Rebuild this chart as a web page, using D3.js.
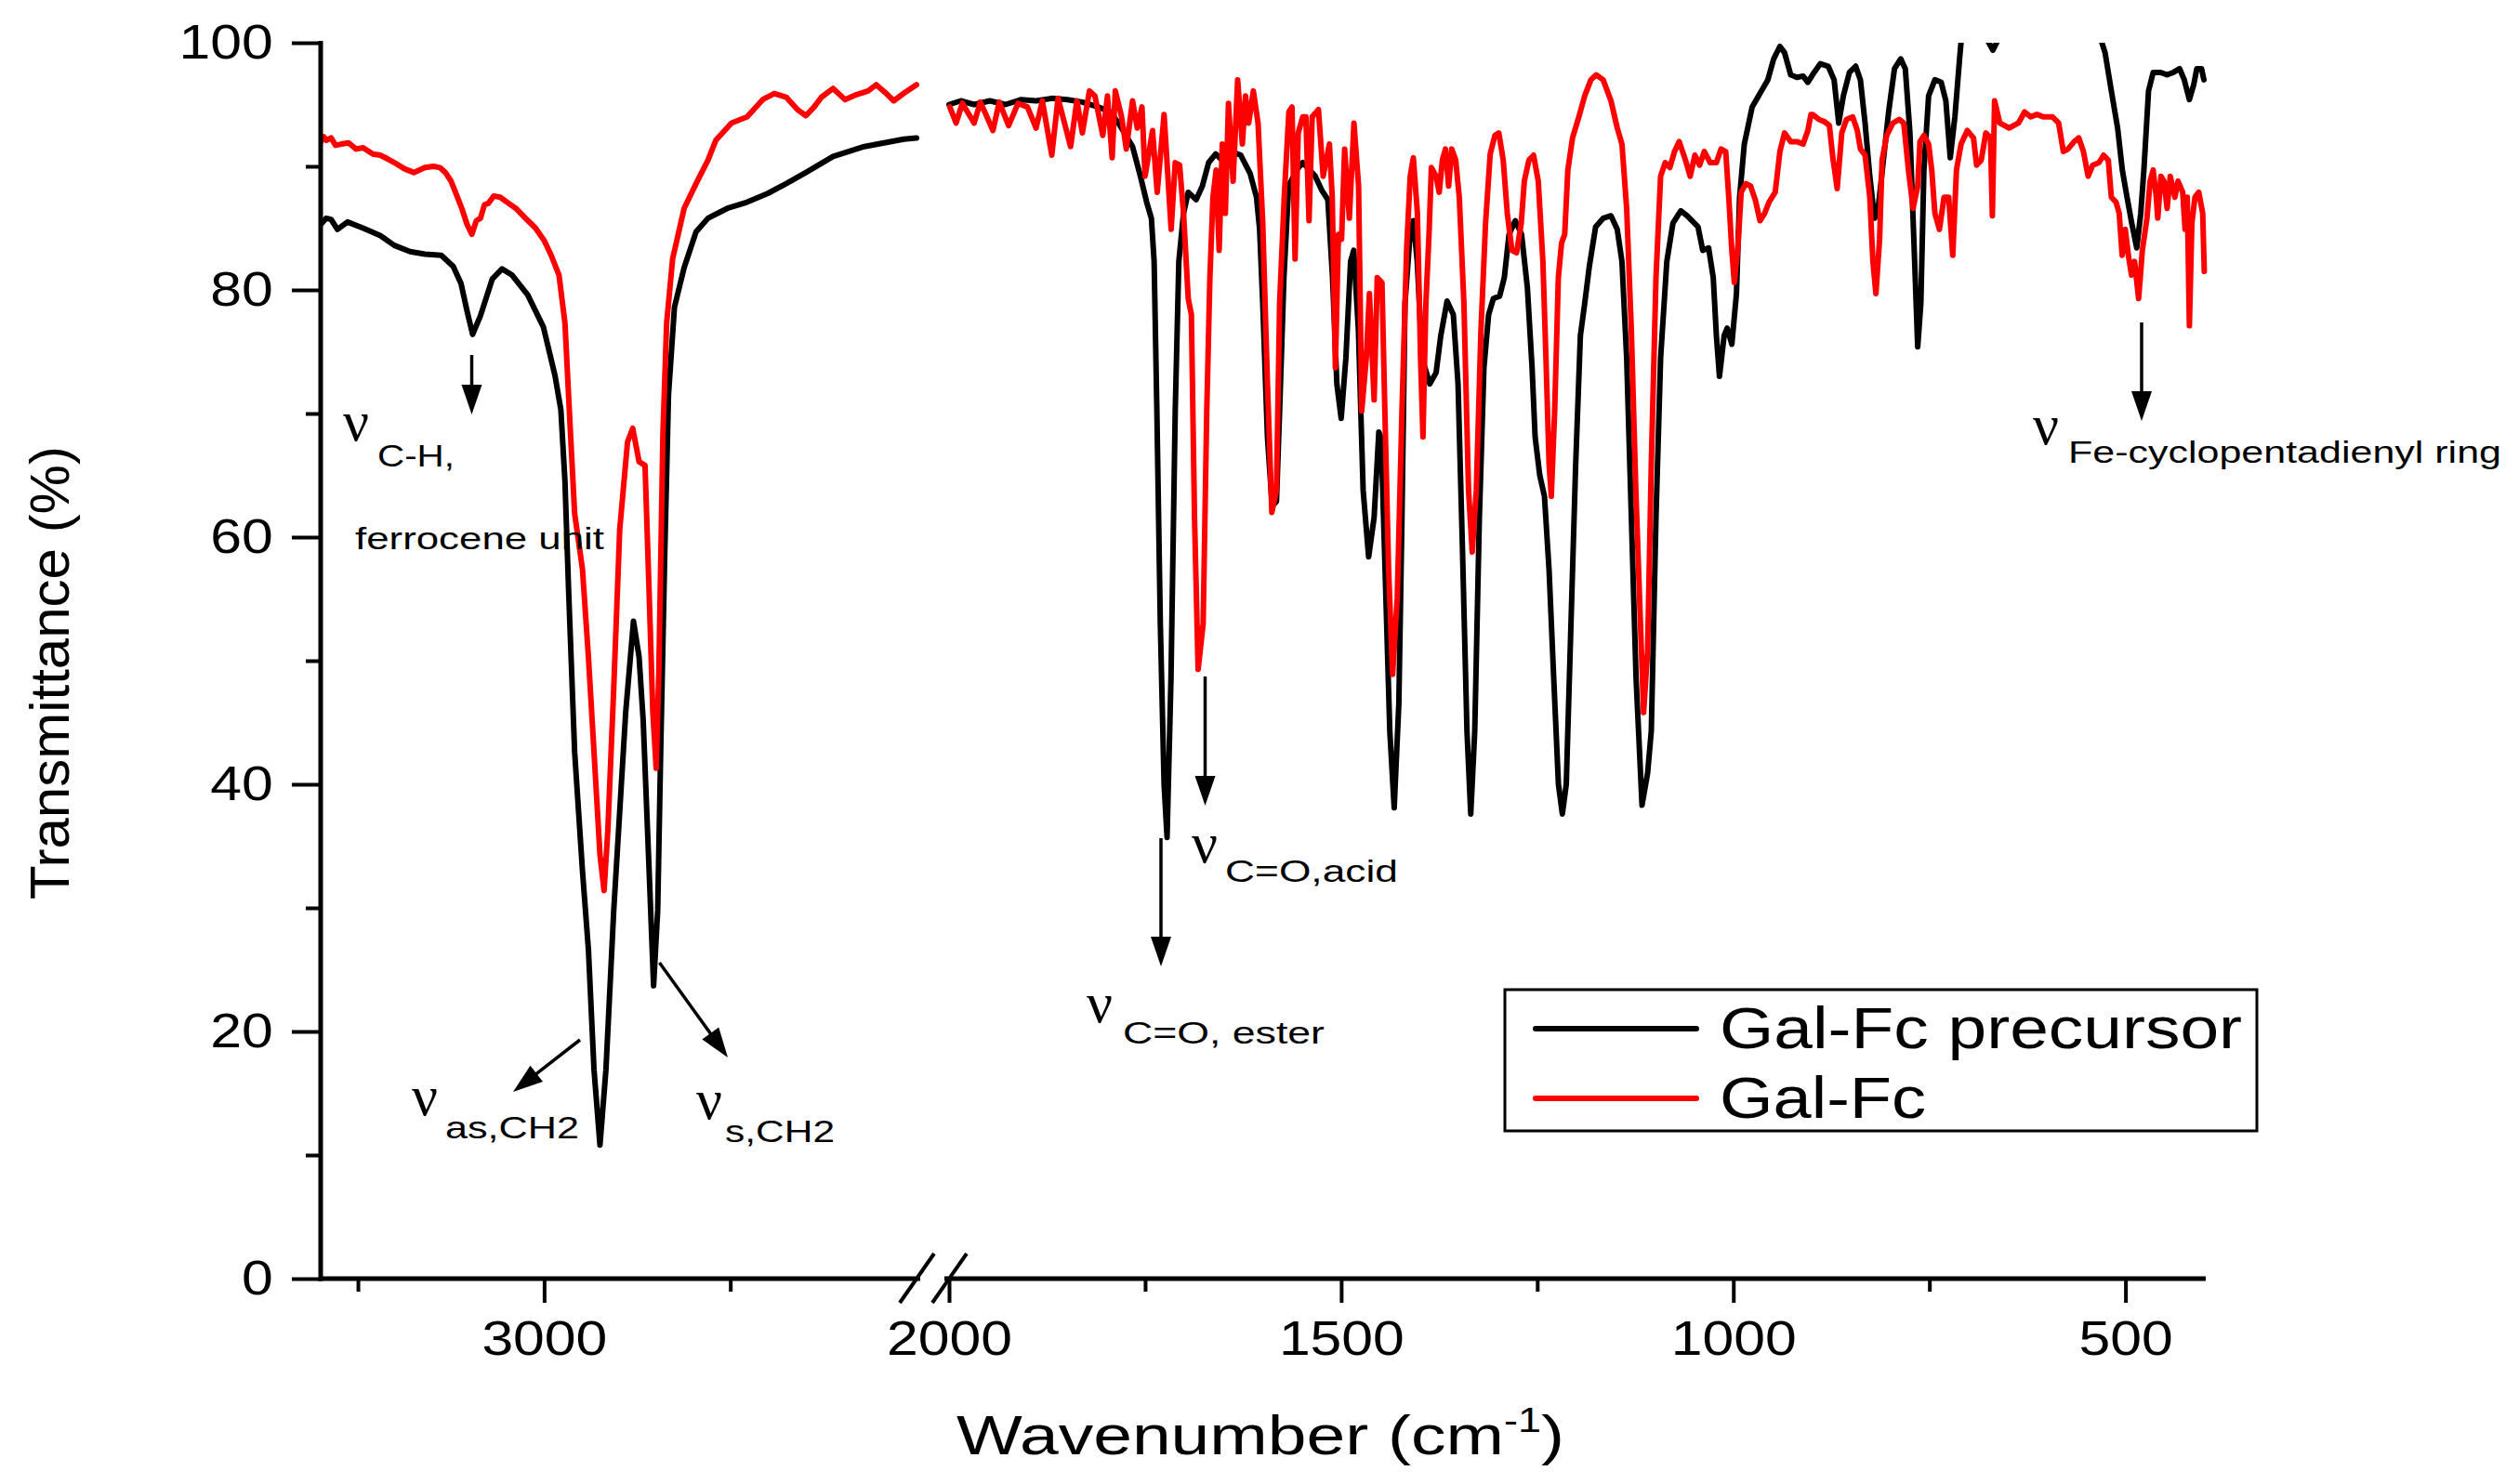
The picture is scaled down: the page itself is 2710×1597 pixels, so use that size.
<!DOCTYPE html>
<html>
<head>
<meta charset="utf-8">
<script src="https://cdn.jsdelivr.net/npm/d3@7"></script>
<style>
  html, body { margin: 0; padding: 0; background: #fff; }
  svg { display: block; }
  text { font-family: "Liberation Sans", Arial, sans-serif; fill: #000; }
</style>
</head>
<body>
<script>
// ---------------- DATA ----------------
const seriesNames = ["Gal-Fc precursor", "Gal-Fc"];
const seriesColors = ["#000000", "#ff0000"];

// left segment (3600 - 2000 cm-1): [wavenumber, transmittance]
const precursorLeft = [[3600,85.3],[3585,85.8],[3572,85.7],[3555,84.9],[3528,85.5],[3486,85.0],[3440,84.4],[3402,83.6],[3360,83.1],[3320,82.9],[3276,82.8],[3244,81.9],[3223,80.5],[3207,78.3],[3192,76.4],[3171,77.9],[3139,80.9],[3113,81.7],[3086,81.2],[3044,79.6],[3002,77.0],[2971,73.1],[2955,70.3],[2944,64.5],[2934,55.5],[2918,42.6],[2897,33.0],[2881,26.6],[2866,16.9],[2850,10.8],[2834,16.9],[2813,29.8],[2781,45.8],[2760,53.2],[2745,50.3],[2734,45.2],[2718,33.0],[2706,23.7],[2695,29.8],[2687,42.6],[2676,58.7],[2666,71.5],[2650,78.6],[2624,81.8],[2592,84.7],[2560,85.8],[2508,86.6],[2455,87.1],[2400,87.8],[2350,88.6],[2297,89.5],[2224,90.8],[2140,91.6],[2034,92.2],[2000,92.3]];
const galFcLeft = [[3600,92.0],[3592,92.4],[3585,92.1],[3572,92.3],[3560,91.7],[3545,91.8],[3525,91.9],[3505,91.4],[3486,91.5],[3460,91.0],[3440,90.9],[3420,90.6],[3402,90.3],[3375,89.8],[3350,89.5],[3335,89.7],[3320,89.9],[3297,90.0],[3280,89.9],[3265,89.5],[3250,88.8],[3234,87.6],[3220,86.5],[3207,85.3],[3194,84.5],[3182,85.6],[3171,85.8],[3160,86.9],[3150,87.0],[3135,87.6],[3118,87.5],[3095,87.0],[3076,86.6],[3050,85.8],[3023,85.0],[3000,84.0],[2981,82.8],[2960,81.2],[2944,77.3],[2929,68.3],[2918,61.9],[2897,57.4],[2881,50.3],[2866,42.6],[2850,34.3],[2839,31.4],[2829,36.2],[2813,47.8],[2797,60.6],[2776,67.7],[2762,68.8],[2745,66.1],[2729,65.8],[2718,55.5],[2708,45.8],[2699,41.3],[2692,49.0],[2681,68.3],[2671,77.3],[2655,82.5],[2624,86.6],[2592,88.6],[2560,90.5],[2539,92.1],[2497,93.5],[2455,94.0],[2413,95.4],[2382,95.9],[2350,95.6],[2320,94.6],[2297,94.1],[2275,94.8],[2255,95.6],[2224,96.3],[2192,95.4],[2161,95.8],[2130,96.1],[2108,96.6],[2085,96.0],[2061,95.3],[2030,96.0],[2000,96.6]];

// right segment (2000 - 400 cm-1)
const precursorRight = [[2000,95.0],[1985,95.3],[1968,95.0],[1948,95.3],[1928,95.0],[1908,95.4],[1889,95.3],[1869,95.5],[1849,95.4],[1830,95.2],[1810,94.8],[1794,94.4],[1782,93.3],[1766,91.6],[1756,89.2],[1748,87.1],[1742,85.8],[1738.5,82.3],[1735,70.2],[1730.6,53.0],[1725.8,40.0],[1722,35.7],[1717,48.6],[1711.6,70.2],[1707,82.3],[1701,86.2],[1695,87.9],[1685,87.3],[1677,88.4],[1669,90.3],[1660,91.0],[1652,90.5],[1640,91.2],[1628,90.9],[1616,89.4],[1608,87.5],[1604,84.9],[1600,78.9],[1594,68.1],[1588,62.5],[1582.5,62.9],[1578.5,70.2],[1573,81.0],[1567,88.4],[1557,89.7],[1549,90.3],[1533,89.2],[1525,88.1],[1517,87.3],[1511,81.0],[1505.5,72.4],[1500,69.6],[1494,74.5],[1488,82.3],[1484,83.2],[1478,76.7],[1472,63.8],[1465,58.4],[1458,61.6],[1452,68.5],[1449,68.0],[1444,57.3],[1438,44.3],[1432.4,38.1],[1426.5,46.5],[1422.5,61.6],[1418.6,78.9],[1412.7,84.0],[1408,85.6],[1403,82.3],[1397,74.5],[1387,72.4],[1379,73.3],[1373,76.3],[1365,79.1],[1357,78.0],[1351,72.4],[1345.5,59.4],[1339.6,44.3],[1334.8,37.6],[1329.7,44.3],[1323.8,61.6],[1318,73.7],[1312,78.0],[1306,79.3],[1298,79.5],[1292,81.0],[1286,84.5],[1278,85.6],[1270,84.5],[1262.6,80.2],[1256.6,73.7],[1252.7,68.1],[1246.8,65.0],[1240.8,63.3],[1234.9,57.3],[1229,48.6],[1223,40.0],[1218,37.6],[1213,40.0],[1207,53.0],[1201,65.9],[1195,76.3],[1189.5,78.9],[1183.6,81.9],[1175.6,85.1],[1166,85.8],[1156,86.0],[1148,84.9],[1142,82.3],[1136,74.5],[1130,61.6],[1124,48.6],[1116.4,38.3],[1109.3,40.9],[1104.6,44.3],[1098.6,61.6],[1092.7,74.5],[1084.8,82.3],[1077,85.4],[1067,86.4],[1059,86.0],[1045,85.1],[1039,83.2],[1031.5,83.4],[1025.6,81.0],[1021.6,76.3],[1017.7,73.0],[1011.7,76.3],[1007.8,76.9],[1001.9,75.6],[996,79.7],[992,87.5],[986,91.8],[976,94.8],[966,95.9],[956,97.0],[948.5,98.7],[940.6,99.7],[934.7,99.2],[926.8,97.4],[919,97.2],[911,97.3],[905,96.8],[897,97.6],[889,98.3],[879,98.1],[871.5,97.0],[865.6,93.5],[859.7,95.7],[852,97.6],[844,98.1],[838,97.0],[832,93.5],[826,89.2],[820,85.8],[816,86.2],[810,89.7],[802,94.4],[794.5,97.9],[786.6,98.7],[780.7,97.9],[774.8,92.7],[768.8,82.3],[764.9,75.4],[760.9,78.9],[757,89.7],[751,95.7],[743,97.0],[735,96.8],[729,95.3],[723.4,90.7],[717.5,94.0],[711.5,98.7],[707.6,101.5],[696,104],[684,102],[676,100.2],[669,99.4],[662,100.3],[650,103],[628,106],[589,107],[550,104],[530,100.0],[526,99.2],[518,96.1],[510,93.1],[504,89.7],[498,87.5],[492,85.4],[485.6,83.4],[480.5,86.2],[476.5,89.7],[470.6,96.1],[464.7,97.6],[455,97.6],[447,97.4],[439,97.6],[431,97.9],[425,97.0],[418.5,95.4],[413,96.6],[409,97.9],[403,97.9],[400,97.0]];
const galFcRight = [[1999,94.8],[1991,93.5],[1983,95.1],[1968,93.5],[1960,95.2],[1944,92.9],[1936,95.2],[1924,93.3],[1912,95.1],[1900,94.8],[1889,93.1],[1881,95.3],[1869,90.9],[1861,95.5],[1845,91.6],[1837,95.3],[1830,92.7],[1821,96.1],[1814,95.7],[1804,92.5],[1798,95.7],[1792,90.7],[1788,96.1],[1780,94.0],[1774,91.4],[1766,95.3],[1760,93.1],[1754,94.8],[1750,89.2],[1740.5,92.9],[1734.6,87.9],[1725.8,94.2],[1716.8,84.9],[1711.6,90.3],[1706,90.1],[1701,86.2],[1695,79.3],[1691,78.0],[1687,61.6],[1682.4,49.3],[1676,53.0],[1671.4,70.2],[1667.4,81.0],[1663.5,87.5],[1659.5,89.7],[1655.6,83.2],[1651.6,91.8],[1647.7,86.2],[1643.7,95.1],[1637.8,88.8],[1632,97.0],[1626,91.8],[1622,95.7],[1618,93.5],[1612,96.1],[1606,93.5],[1600,85.4],[1594,72.4],[1588.4,62.0],[1582.5,63.8],[1578.5,78.9],[1572.6,87.5],[1566.7,94.4],[1562.7,94.8],[1558.8,82.5],[1554.8,92.7],[1549,94.0],[1545,94.0],[1541,85.6],[1537,94.0],[1529,94.6],[1523,89.2],[1515,91.8],[1511.4,87.5],[1507.4,73.7],[1503.5,84.5],[1499.5,84.1],[1495.6,91.4],[1489.6,85.8],[1483.7,93.5],[1477.8,88.4],[1473.8,70.2],[1468,74.5],[1464,79.7],[1458,71.1],[1454,81.0],[1448,80.6],[1444.3,70.2],[1439.5,57.3],[1434.4,48.9],[1428.5,55.1],[1422.5,70.2],[1416.6,83.2],[1412,89.2],[1408,90.7],[1402.8,86.2],[1398.8,74.5],[1395.7,68.1],[1392,78.9],[1388,84.5],[1385,89.9],[1379,89.2],[1375,87.9],[1371,90.5],[1367,91.4],[1363,88.4],[1359,91.4],[1354,90.5],[1349.4,87.5],[1343.5,78.9],[1337.6,63.8],[1332.9,58.8],[1327.7,63.8],[1321.8,76.7],[1315.9,85.4],[1310,91.0],[1304,92.5],[1299,92.7],[1293.4,90.5],[1288.2,86.2],[1282.3,83.2],[1276.4,83.0],[1270.4,85.4],[1266.5,88.8],[1260.6,90.5],[1254.7,90.9],[1248.7,88.8],[1242.8,82.3],[1238.9,74.5],[1234.9,65.9],[1232.1,63.3],[1227.8,70.2],[1223.1,81.0],[1219,83.8],[1215,84.5],[1211,89.7],[1205,92.3],[1197,94.0],[1189.5,95.7],[1181.6,97.0],[1175,97.4],[1166,97.0],[1156,95.3],[1148,93.1],[1142,91.8],[1136,86.6],[1130,76.7],[1124.3,63.8],[1118.4,53.0],[1114.4,45.8],[1109.3,50.8],[1104.6,65.9],[1098.6,81.0],[1092.7,89.2],[1086.8,90.3],[1081,89.9],[1075,91.2],[1069,92.0],[1061,90.5],[1055,89.2],[1049,90.9],[1043,90.1],[1037,91.2],[1029.5,90.3],[1021.6,90.3],[1015.7,91.4],[1009.7,91.2],[1005.8,87.5],[1001.9,83.2],[998.7,80.6],[994,83.6],[990,87.9],[984,88.6],[978,88.4],[972,87.3],[966,85.6],[960,86.2],[954.5,87.1],[946.6,87.9],[940.6,91.2],[934.7,92.7],[926.8,92.0],[919,92.0],[911,91.8],[905,92.9],[901,94.2],[899,94.2],[891,93.8],[883.4,93.6],[877.5,93.3],[873.5,90.9],[867.6,88.2],[861.7,92.7],[855.7,93.8],[847.8,94.0],[841.9,92.9],[837.9,91.4],[832,90.9],[826,87.5],[822,82.3],[818.2,79.7],[813.5,84.1],[810.3,90.5],[804.4,92.5],[796.5,93.5],[788.6,93.8],[782.7,93.5],[776.7,89.7],[770.8,86.6],[764.9,88.4],[762,92.0],[757,92.5],[751,91.8],[747,89.7],[743,86.2],[737.2,84.9],[731.3,87.5],[725.4,87.5],[720.2,82.8],[715.5,89.7],[709.6,91.8],[701.7,92.9],[693.8,92.3],[689.8,90.1],[683.9,90.5],[678,92.7],[672.1,92.3],[669.7,86.0],[666.9,95.3],[660.2,93.5],[648.4,93.1],[636.5,93.5],[628.6,94.4],[620.7,94.0],[612.8,94.2],[604.9,94.0],[593,94.0],[585.2,93.5],[579.2,91.2],[573.3,91.4],[565.4,92.0],[559.5,92.3],[553.6,91.2],[547.6,89.2],[541.7,90.1],[533.8,90.3],[527.9,90.9],[521.9,90.5],[518,87.5],[512,87.1],[508,86.2],[504.2,82.8],[500.2,84.9],[496.3,82.8],[492.3,81.2],[488.4,82.3],[483.2,79.3],[478.5,83.2],[472.6,85.8],[468.6,88.8],[464.7,89.7],[460.7,87.5],[458.8,85.8],[454.8,89.2],[450.9,88.8],[446.9,86.6],[442.9,89.2],[437,87.5],[433,88.8],[427,87.9],[424,84.9],[421.2,87.5],[418.5,77.1],[415.3,85.4],[411.4,87.5],[406.6,87.9],[401.5,86.2],[399.5,81.5]];

const yMajorTicks = [0, 20, 40, 60, 80, 100];
const yMinorTicks = [10, 30, 50, 70, 90];
const xLeftMajorTicks = [3000];
const xLeftMinorTicks = [3500, 2500];
const xRightMajorTicks = [2000, 1500, 1000, 500];
const xRightMinorTicks = [1750, 1250, 750];

// ---------------- LAYOUT ----------------
const W = 2710, H = 1597;
const svg = d3.select("body").append("svg").attr("width", W).attr("height", H);

const y = d3.scaleLinear().domain([0, 100]).range([1376, 46]);
const xL = d3.scaleLinear().domain([3600, 2000]).range([345, 986]);
const xR = d3.scaleLinear().domain([2000, 400]).range([1021, 2371]);

const defs = svg.append("defs");
defs.append("clipPath").attr("id", "clipL").append("rect")
  .attr("x", 345).attr("y", y(100)).attr("width", 648).attr("height", y(0) - y(100));
defs.append("clipPath").attr("id", "clipR").append("rect")
  .attr("x", 1017).attr("y", y(100)).attr("width", 1360).attr("height", y(0) - y(100));

// curves
function drawSeries(data, xs, clip, color) {
  svg.append("path")
    .datum(data)
    .attr("clip-path", `url(#${clip})`)
    .attr("fill", "none")
    .attr("stroke", color)
    .attr("stroke-width", 6)
    .attr("stroke-linejoin", "round")
    .attr("stroke-linecap", "round")
    .attr("d", d3.line().x(d => xs(d[0])).y(d => y(d[1])));
}
drawSeries(precursorLeft, xL, "clipL", seriesColors[0]);
drawSeries(galFcLeft, xL, "clipL", seriesColors[1]);
drawSeries(precursorRight, xR, "clipR", seriesColors[0]);
drawSeries(galFcRight, xR, "clipR", seriesColors[1]);

// axes
const TX = 1.19; // horizontal stretch of labels in the original
function styleAxis(g, labelFont) {
  g.select(".domain").remove();
  g.selectAll(".tick line").attr("stroke", "#000").attr("stroke-width", 4);
  g.selectAll(".tick text")
    .style("font-size", labelFont + "px")
    .attr("fill", "#000")
    .attr("transform", `scale(${TX},1)`);
}
const gy = svg.append("g").attr("transform", "translate(345,0)")
  .call(d3.axisLeft(y).tickValues(yMajorTicks).tickSize(31).tickPadding(12).tickFormat(d3.format("d")));
styleAxis(gy, 51);
const gy2 = svg.append("g").attr("transform", "translate(345,0)")
  .call(d3.axisLeft(y).tickValues(yMinorTicks).tickSize(16).tickFormat(""));
styleAxis(gy2, 51);

const gxl = svg.append("g").attr("transform", `translate(0,${y(0)})`)
  .call(d3.axisBottom(xL).tickValues(xLeftMajorTicks).tickSize(26).tickPadding(20).tickFormat(d3.format("d")));
styleAxis(gxl, 51);
const gxl2 = svg.append("g").attr("transform", `translate(0,${y(0)})`)
  .call(d3.axisBottom(xL).tickValues(xLeftMinorTicks).tickSize(14).tickFormat(""));
styleAxis(gxl2, 51);
const gxr = svg.append("g").attr("transform", `translate(0,${y(0)})`)
  .call(d3.axisBottom(xR).tickValues(xRightMajorTicks).tickSize(26).tickPadding(20).tickFormat(d3.format("d")));
styleAxis(gxr, 51);
const gxr2 = svg.append("g").attr("transform", `translate(0,${y(0)})`)
  .call(d3.axisBottom(xR).tickValues(xRightMinorTicks).tickSize(14).tickFormat(""));
styleAxis(gxr2, 51);

// axis lines
function line(x1, y1, x2, y2, sw) {
  return svg.append("line").attr("x1", x1).attr("y1", y1).attr("x2", x2).attr("y2", y2)
    .attr("stroke", "#000").attr("stroke-width", sw).attr("stroke-linecap", "butt");
}
line(345, y(100) - 2, 345, y(0) + 2.5, 5);
line(343, y(0), xL(2000) + 4, y(0), 5);
line(xR(2000) - 5, y(0), xR(400) + 2, y(0), 5);
// break marks
line(968, y(0) + 26, 1005, y(0) - 27, 4);
line(1003, y(0) + 26, 1040, y(0) - 27, 4);

// axis titles
svg.append("text")
  .attr("transform", "translate(74,724) rotate(-90)")
  .attr("text-anchor", "middle")
  .style("font-size", "60px")
  .text("Transmittance (%)");

const xt = svg.append("text")
  .attr("transform", "translate(1029,1565) scale(1.25,1)")
  .style("font-size", "60px");
xt.append("tspan").text("Wavenumber (cm");
xt.append("tspan").attr("dy", -24).style("font-size", "36px").text("-1");
xt.append("tspan").attr("dy", 24).text(")");

// arrows
function arrow(x1, y1, x2, y2) {
  const len = Math.hypot(x2 - x1, y2 - y1);
  const ux = (x2 - x1) / len, uy = (y2 - y1) / len;
  const hl = 32, hw = 11;
  const bx = x2 - ux * hl, by = y2 - uy * hl;
  line(x1, y1, bx + ux * 2, by + uy * 2, 3.5);
  svg.append("path")
    .attr("d", `M${x2},${y2}L${bx - uy * hw},${by + ux * hw}L${bx + uy * hw},${by - ux * hw}Z`)
    .attr("fill", "#000");
}
arrow(507.5, 382, 507.5, 446);
arrow(624, 1119, 552, 1175);
arrow(709.5, 1036, 783, 1138);
arrow(1296.5, 728, 1296.5, 867);
arrow(1249, 902, 1249, 1040);
arrow(2304, 347, 2304, 453);

// annotations
function nuLabel(nx, nBase, sx, sBase, sub, width) {
  svg.append("text").attr("x", nx).attr("y", nBase)
    .style("font-family", "'Liberation Serif', 'Times New Roman', serif")
    .style("font-size", "62px").text("ν");
  svg.append("text").attr("x", sx).attr("y", sBase)
    .style("font-size", "33px")
    .attr("textLength", width).attr("lengthAdjust", "spacingAndGlyphs")
    .text(sub);
}
nuLabel(369, 474, 406, 502, "C-H,", 83);
svg.append("text").attr("x", 382).attr("y", 591).style("font-size", "33px")
  .attr("textLength", 268).attr("lengthAdjust", "spacingAndGlyphs").text("ferrocene unit");
nuLabel(443, 1200, 479, 1225, "as,CH2", 144);
nuLabel(749, 1204, 780, 1229, "s,CH2", 118);
nuLabel(1282, 928, 1318, 949, "C=O,acid", 186);
nuLabel(1169, 1100, 1208, 1123, "C=O, ester", 217);
nuLabel(2187, 478, 2225, 498, "Fe-cyclopentadienyl ring", 466);

// legend
svg.append("rect").attr("x", 1619).attr("y", 1065).attr("width", 809).attr("height", 152)
  .attr("fill", "#fff").attr("stroke", "#000").attr("stroke-width", 3);
const legY = [1107, 1182];
const legW = [562, 222];
seriesNames.forEach((name, i) => {
  svg.append("line").attr("x1", 1652).attr("x2", 1825).attr("y1", legY[i]).attr("y2", legY[i])
    .attr("stroke", seriesColors[i]).attr("stroke-width", 6).attr("stroke-linecap", "round");
  svg.append("text").attr("x", 1850).attr("y", legY[i] + 21)
    .style("font-size", "63px")
    .attr("textLength", legW[i]).attr("lengthAdjust", "spacingAndGlyphs")
    .text(name);
});
</script>
</body>
</html>
